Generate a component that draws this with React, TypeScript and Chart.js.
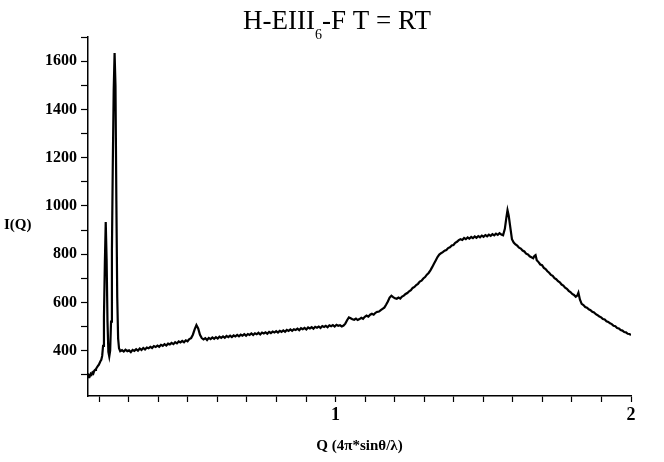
import React, { useEffect, useRef } from "react";
import { Chart, registerables } from "chart.js";

Chart.register(...registerables);

const SERIF = '"Liberation Serif", "Times New Roman", serif';

// Title pieces: main text, subscript, trailing text
const TITLE_MAIN = "H-EIII";
const TITLE_SUB = "6";
const TITLE_TAIL = "-F T = RT";
const X_AXIS_TITLE = "Q (4π*sinθ/λ)";
const Y_AXIS_TITLE = "I(Q)";

// Axis ranges and tick marks
const Q_MIN = 0.162;
const Q_MAX = 2.0;
const I_MIN = 212;
const I_MAX = 1700;
const X_TICKS = [0.2, 0.3, 0.4, 0.5, 0.6, 0.7, 0.8, 0.9, 1.0, 1.1, 1.2, 1.3, 1.4, 1.5, 1.6, 1.7, 1.8, 1.9, 2.0];
const X_LABELED = [1, 2];
const Y_TICKS = [300, 400, 500, 600, 700, 800, 900, 1000, 1100, 1200, 1300, 1400, 1500, 1600, 1700];
const Y_LABELED = [400, 600, 800, 1000, 1200, 1400, 1600];

// Scattering vector Q
const Q_VALUES = [
  0.162, 0.165, 0.168, 0.171, 0.174, 0.177, 0.180, 0.183, 0.186, 0.189,
  0.192, 0.195, 0.198, 0.201, 0.204, 0.207, 0.210, 0.213, 0.216, 0.219,
  0.222, 0.225, 0.228, 0.231, 0.234, 0.237, 0.240, 0.243, 0.246, 0.249,
  0.252, 0.255, 0.258, 0.261, 0.264, 0.267, 0.271,
  0.277, 0.283, 0.289, 0.295, 0.301, 0.307, 0.313, 0.319, 0.325, 0.331,
  0.337, 0.343, 0.349, 0.355, 0.361, 0.367, 0.373, 0.379, 0.385, 0.391,
  0.397, 0.403, 0.409, 0.415, 0.421, 0.427, 0.433, 0.439, 0.445, 0.451,
  0.457, 0.463, 0.469, 0.475, 0.481, 0.487, 0.493, 0.499, 0.505, 0.511,
  0.517, 0.523, 0.529, 0.535, 0.541, 0.547, 0.553, 0.559, 0.565, 0.571,
  0.577, 0.583, 0.589, 0.595, 0.601, 0.607, 0.613, 0.619, 0.625, 0.631,
  0.637, 0.643, 0.649, 0.655, 0.661, 0.667, 0.673, 0.679, 0.685, 0.691,
  0.697, 0.703, 0.709, 0.715, 0.721, 0.727, 0.733, 0.739, 0.745, 0.751,
  0.757, 0.763, 0.769, 0.775, 0.781, 0.787, 0.793, 0.799, 0.805, 0.811,
  0.817, 0.823, 0.829, 0.835, 0.841, 0.847, 0.853, 0.859, 0.865, 0.871,
  0.877, 0.883, 0.889, 0.895, 0.901, 0.907, 0.913, 0.919, 0.925, 0.931,
  0.937, 0.943, 0.949, 0.955, 0.961, 0.967, 0.973, 0.979, 0.985, 0.991,
  0.997, 1.003, 1.009, 1.015, 1.021, 1.027,
  1.033, 1.039, 1.045, 1.051, 1.057, 1.063, 1.069, 1.075, 1.081, 1.087,
  1.093, 1.099, 1.105, 1.111, 1.117, 1.123, 1.129, 1.135, 1.141, 1.147,
  1.153, 1.159, 1.165, 1.171, 1.177, 1.183, 1.189, 1.195, 1.201, 1.207,
  1.213, 1.219, 1.225, 1.231, 1.237, 1.243, 1.249, 1.255, 1.261, 1.267,
  1.273, 1.279, 1.285, 1.291, 1.297, 1.303, 1.309, 1.315, 1.321, 1.327,
  1.333, 1.339, 1.345, 1.351, 1.357, 1.363, 1.369, 1.375, 1.381, 1.387,
  1.393, 1.399, 1.405, 1.411, 1.417, 1.423, 1.429, 1.435, 1.441, 1.447,
  1.453, 1.459, 1.465, 1.471, 1.477, 1.483, 1.489, 1.495, 1.501, 1.507,
  1.513, 1.519, 1.525, 1.531, 1.537, 1.543, 1.549,
  1.555, 1.561, 1.567, 1.573, 1.578, 1.582, 1.586, 1.591, 1.597, 1.603,
  1.609, 1.615, 1.621, 1.627, 1.633, 1.639, 1.645, 1.651, 1.657, 1.663,
  1.669, 1.673, 1.677, 1.681, 1.687, 1.693, 1.699, 1.705, 1.711, 1.717,
  1.723, 1.729, 1.735, 1.741, 1.747, 1.753, 1.759, 1.765, 1.771, 1.777,
  1.783, 1.789, 1.795, 1.801, 1.807, 1.813, 1.818, 1.822, 1.827, 1.833,
  1.839, 1.845, 1.851, 1.857, 1.863, 1.869, 1.875, 1.881, 1.887, 1.893,
  1.899, 1.905, 1.911, 1.917, 1.923, 1.929, 1.935, 1.941, 1.947, 1.953,
  1.959, 1.965, 1.971, 1.977, 1.983, 1.989, 1.995, 2.000,
];

// Measured intensity I(Q)
const INTENSITY = [
  290, 298, 294, 304, 300, 309, 305, 316, 320, 324,
  330, 336, 340, 348, 356, 362, 378, 420, 540, 760,
  933, 780, 520, 395, 376, 400, 520, 820, 1180, 1480,
  1634, 1500, 1020, 620, 450, 410, 398,
  402, 396, 404, 398, 401, 394, 403, 399, 406, 400,
  409, 403, 411, 405, 413, 410, 416, 411, 419, 415,
  421, 416, 424, 420, 427, 421, 429, 426, 432, 427,
  435, 430, 438, 434, 440, 435, 443, 439, 448, 452,
  466, 488, 506, 492, 466, 452, 447, 452, 444, 453,
  448, 455, 449, 456, 450, 458, 453, 459, 453, 461,
  456, 462, 456, 463, 459, 465, 459, 466, 462, 468,
  462, 469, 465, 471, 465, 472, 468, 474, 467, 475,
  471, 476, 470, 478, 473, 479, 475, 481, 475, 482,
  478, 484, 478, 486, 482, 488, 482, 489, 486, 491,
  485, 493, 489, 494, 488, 496, 492, 497, 491, 499,
  495, 500, 494, 502, 498, 503, 497, 505, 501, 506,
  500, 507, 503, 505, 500, 504,
  512, 526, 538, 534, 530, 528, 533, 527, 531, 536,
  532, 540, 545, 541, 549, 553, 549, 557, 561, 562,
  568, 573, 578, 590, 604, 620, 628, 622, 617, 615,
  620, 616, 624, 628, 635, 639, 646, 651, 660, 664,
  672, 677, 686, 690, 699, 705, 715, 722, 733, 746,
  760, 774, 788, 798, 804, 808, 814, 817, 825, 828,
  836, 838, 847, 851, 858, 862, 859, 867, 862, 869,
  864, 871, 866, 873, 868, 875, 870, 877, 872, 879,
  874, 881, 876, 883, 878, 885, 880,
  887, 881, 878, 905, 950, 982, 960, 915, 862, 848,
  840, 835, 827, 823, 815, 811, 802, 799, 791, 787,
  783, 792, 796, 775, 767, 757, 754, 743, 738, 729,
  723, 714, 710, 700, 696, 688, 683, 674, 670, 661,
  656, 648, 643, 635, 631, 623, 628, 640, 612, 594,
  589, 581, 578, 571, 568, 561, 558, 551, 547, 541,
  538, 531, 529, 522, 519, 513, 510, 503, 501, 494,
  492, 485, 483, 477, 476, 470, 469, 465,
];

const figureText = {
  id: "figureText",
  afterDraw(chart: any) {
    const { ctx, chartArea } = chart;
    ctx.save();
    ctx.fillStyle = "#000";
    ctx.textBaseline = "alphabetic";
    ctx.textAlign = "left";

    // Title with subscript
    const mainFont = `27px ${SERIF}`;
    const subFont = `14px ${SERIF}`;
    ctx.font = mainFont;
    const wMain = ctx.measureText(TITLE_MAIN).width;
    const wTail = ctx.measureText(TITLE_TAIL).width;
    ctx.font = subFont;
    const wSub = ctx.measureText(TITLE_SUB).width;
    const total = wMain + wSub + wTail;
    let x = chart.width / 2 + 5 - total / 2;
    const base = 29;
    ctx.font = mainFont;
    ctx.fillText(TITLE_MAIN, x, base);
    x += wMain;
    ctx.font = subFont;
    ctx.fillText(TITLE_SUB, x, base + 10);
    x += wSub;
    ctx.font = mainFont;
    ctx.fillText(TITLE_TAIL, x, base);

    // Horizontal y-axis title
    ctx.font = `bold 15px ${SERIF}`;
    ctx.fillText(Y_AXIS_TITLE, 4, chartArea.top + (chartArea.bottom - chartArea.top) * 0.52 + 5);

    // x-axis title
    ctx.textAlign = "center";
    ctx.fillText(X_AXIS_TITLE, (chartArea.left + chartArea.right) / 2, 450);
    ctx.restore();
  },
};

export default function App() {
  const canvasRef = useRef<HTMLCanvasElement | null>(null);

  useEffect(() => {
    document.body.style.margin = "0";
    const canvas = canvasRef.current;
    if (!canvas) return;
    const points = Q_VALUES.map((q, i) => ({ x: q, y: INTENSITY[i] }));

    const chart = new Chart(canvas, {
      type: "line",
      data: {
        datasets: [
          {
            data: points,
            borderColor: "#000",
            borderWidth: 2.2,
            pointRadius: 0,
            tension: 0,
            fill: false,
          },
        ],
      },
      options: {
        animation: false,
        responsive: false,
        maintainAspectRatio: false,
        layout: { padding: { top: 37, right: 33, left: 0, bottom: 0 } },
        plugins: {
          legend: { display: false },
          tooltip: { enabled: false },
          title: { display: false },
        },
        scales: {
          x: {
            type: "linear",
            min: Q_MIN,
            max: Q_MAX,
            afterBuildTicks: (scale: any) => {
              scale.ticks = X_TICKS.map((value) => ({ value }));
            },
            afterFit: (scale: any) => {
              scale.height = 66;
            },
            ticks: {
              autoSkip: false,
              maxRotation: 0,
              padding: 3,
              color: "#000",
              font: { family: SERIF, size: 18, weight: "bold" },
              callback: (value: any) => {
                const v = Number(value);
                return X_LABELED.some((t) => Math.abs(t - v) < 1e-6) ? String(Math.round(v)) : "";
              },
            },
            grid: {
              display: true,
              drawOnChartArea: false,
              drawTicks: true,
              tickLength: 6,
              tickColor: "#000",
              tickWidth: 1.2,
            },
            border: { display: true, color: "#000", width: 1.5 },
          },
          y: {
            type: "linear",
            min: I_MIN,
            max: I_MAX,
            afterBuildTicks: (scale: any) => {
              scale.ticks = Y_TICKS.map((value) => ({ value }));
            },
            afterFit: (scale: any) => {
              scale.width = 88;
            },
            ticks: {
              autoSkip: false,
              padding: 4,
              color: "#000",
              font: { family: SERIF, size: 16, weight: "bold" },
              callback: (value: any) => {
                const v = Number(value);
                return Y_LABELED.includes(Math.round(v)) ? String(Math.round(v)) : "";
              },
            },
            grid: {
              display: true,
              drawOnChartArea: false,
              drawTicks: true,
              tickLength: 7,
              tickColor: "#000",
              tickWidth: 1.2,
            },
            border: { display: true, color: "#000", width: 1.5 },
          },
        },
      },
      plugins: [figureText],
    });

    return () => chart.destroy();
  }, []);

  return (
    <div style={{ width: 664, height: 462, background: "#fff" }}>
      <canvas ref={canvasRef} width={664} height={462} />
    </div>
  );
}
